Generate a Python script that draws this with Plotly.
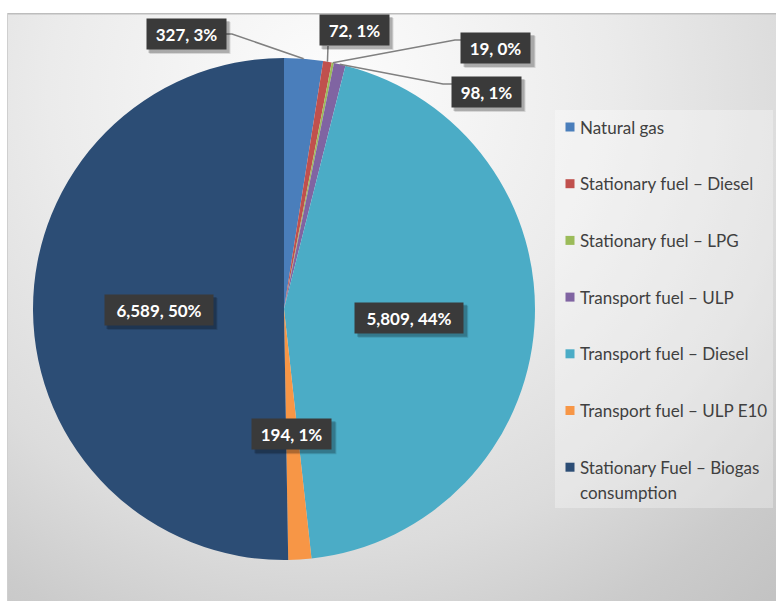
import base64
import math
import plotly.graph_objects as go

# ---- data ---------------------------------------------------------------
categories = [
    "Natural gas",
    "Stationary fuel – Diesel",
    "Stationary fuel – LPG",
    "Transport fuel – ULP",
    "Transport fuel – Diesel",
    "Transport fuel – ULP E10",
    "Stationary Fuel – Biogas<br>consumption",
]
values = [327, 72, 19, 98, 5809, 194, 6589]
percent_labels = ["3%", "1%", "0%", "1%", "44%", "1%", "50%"]
colors = ["#4a7ebb", "#c0504d", "#9bbb59", "#8064a2", "#4bacc6", "#f79646", "#2c4d75"]

# ---- canvas / geometry --------------------------------------------------
W, H = 776, 601
CX, CY, R = 284, 309, 251          # pie centre and radius (pixels)


def px(x):
    return x / W


def py(y):
    return 1 - y / H


# radial grey background of the chart area
svg = """<svg xmlns="http://www.w3.org/2000/svg" width="769" height="588" viewBox="0 0 769 588">
<defs><radialGradient id="g" cx="323" cy="80" r="670" gradientUnits="userSpaceOnUse">
<stop offset="0" stop-color="#fdfdfd"/><stop offset="0.42" stop-color="#ebebeb"/>
<stop offset="0.68" stop-color="#dcdcdc"/><stop offset="0.87" stop-color="#cbcbcb"/>
<stop offset="1" stop-color="#c3c3c3"/></radialGradient></defs>
<rect width="769" height="588" fill="url(#g)"/>
<line x1="0" y1="0.75" x2="769" y2="0.75" stroke="#bdbdbd" stroke-width="1.5"/>
<line x1="0.5" y1="0" x2="0.5" y2="588" stroke="#cfcfcf" stroke-width="1"/>
</svg>"""
bg_uri = "data:image/svg+xml;base64," + base64.b64encode(svg.encode()).decode()

fig = go.Figure()
fig.add_trace(go.Pie(
    labels=categories,
    values=values,
    sort=False,
    direction="clockwise",
    rotation=0,
    marker=dict(colors=colors, line=dict(width=0)),
    textinfo="none",
    hoverinfo="label+value+percent",
    showlegend=False,
    domain=dict(x=[px(CX - R), px(CX + R)], y=[py(CY + R), py(CY - R)]),
))

# ---- slice angles from the data ----------------------------------------
total = sum(values)
mid_angles = []
cum = 0
for v in values:
    mid_angles.append((cum + v / 2) / total * 2 * math.pi)
    cum += v


def polar(frac, ang):
    return CX + frac * R * math.sin(ang), CY - frac * R * math.cos(ang)


def value_text(i):
    return f"{values[i]:,}, {percent_labels[i]}"


annotations = []
shapes = []
LABEL_FONT = dict(family="Lato, 'Open Sans', sans-serif", size=17, color="white", weight="bold")
PAD = 5
TEXT_H = 20


def data_label(i, x, y):
    text = value_text(i)
    tw = round(9.8 * len(text))
    bw, bh = tw + 2 * PAD + 2, TEXT_H + 2 * PAD + 2
    # soft drop shadow behind the dark label box
    for off, alpha in ((4, 0.12), (3, 0.2)):
        shapes.append(dict(type="rect", xref="paper", yref="paper",
                           x0=px(x - bw / 2 + off), x1=px(x + bw / 2 + off),
                           y0=py(y + bh / 2 + off), y1=py(y - bh / 2 + off),
                           fillcolor=f"rgba(0,0,0,{alpha})", line=dict(width=0)))
    annotations.append(dict(
        x=px(x), y=py(y), xref="paper", yref="paper", width=tw, height=TEXT_H,
        text=text, showarrow=False, xanchor="center", yanchor="middle",
        font=LABEL_FONT, bgcolor="#3a3a3a", borderpad=PAD,
    ))


# inside labels at half radius along each slice's mid angle
for i in (4, 5, 6):
    x, y = polar(0.5, mid_angles[i])
    data_label(i, x, y)

# outside labels with leader lines to the slice edge
outside = {
    0: dict(box=(186, 34), path=[(226, 34), (232, 34)]),
    1: dict(box=(354, 30), path=[(328, 46)]),
    2: dict(box=(496, 48), path=[(462, 40), (455, 40)]),
    3: dict(box=(486, 92), path=[(452, 84), (443, 84)]),
}
for i, spec in outside.items():
    ex, ey = polar(1.0, mid_angles[i])
    pts = spec["path"] + [(ex, ey)]
    d = "M " + " L ".join(f"{px(a):.5f},{py(b):.5f}" for a, b in pts)
    shapes.append(dict(type="path", path=d, xref="paper", yref="paper",
                       line=dict(color="#808080", width=1.5)))
for i, spec in outside.items():
    data_label(i, *spec["box"])

# ---- legend -------------------------------------------------------------
LEG_X, LEG_TOP, LEG_STEP = 570, 127, 56.7
shapes.append(dict(type="rect", xref="paper", yref="paper",
                   x0=px(555), x1=px(773), y0=py(508), y1=py(110),
                   fillcolor="rgba(255,255,255,0.30)", line=dict(width=0), layer="below"))
for i, (lab, col) in enumerate(zip(categories, colors)):
    yc = LEG_TOP + i * LEG_STEP
    shapes.append(dict(type="rect", xref="paper", yref="paper",
                       x0=px(LEG_X - 4.5), x1=px(LEG_X + 4.5), y0=py(yc + 4.5), y1=py(yc - 4.5),
                       fillcolor=col, line=dict(width=0)))
    for k, line in enumerate(lab.split("<br>")):
        annotations.append(dict(
            x=px(LEG_X + 8), y=py(yc + k * 25), xref="paper", yref="paper",
            text=line, showarrow=False, xanchor="left", yanchor="middle",
            font=dict(family="Lato, 'Open Sans', sans-serif", size=17, color="#404040"),
        ))

fig.update_layout(
    width=W, height=H,
    margin=dict(l=0, r=0, t=0, b=0),
    paper_bgcolor="white",
    images=[dict(source=bg_uri, xref="paper", yref="paper", x=px(7), y=py(13),
                 sizex=769 / W, sizey=588 / H, sizing="stretch", layer="below",
                 xanchor="left", yanchor="top")],
    shapes=shapes,
    annotations=annotations,
)

fig.write_html("out.html")
